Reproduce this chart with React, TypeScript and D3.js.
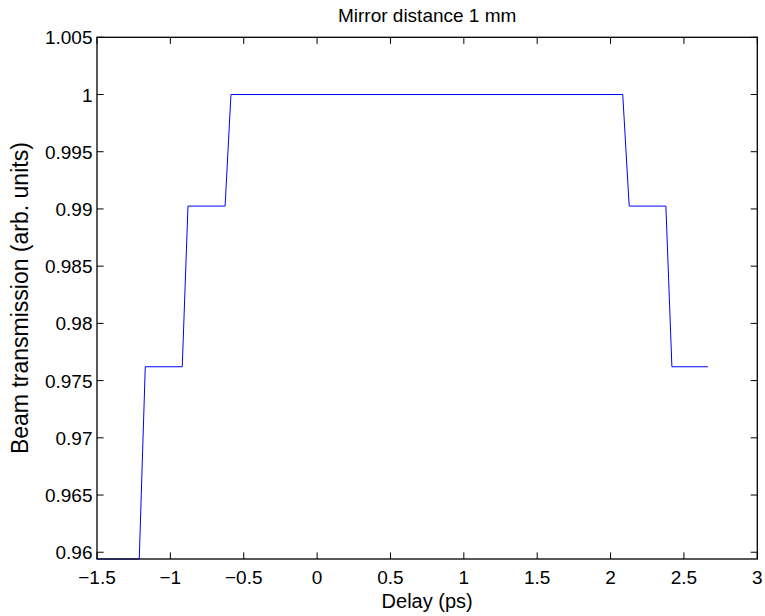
import React from "react";
import * as d3 from "d3";

const delayPs = [-1.5, -1.212, -1.171, -0.919, -0.880, -0.627, -0.587, 2.083, 2.127, 2.377, 2.418, 2.663];
const transmission = [0.95941, 0.95941, 0.97621, 0.97621, 0.99025, 0.99025, 1.0, 1.0, 0.99025, 0.99025, 0.97621, 0.97621];
const xTicks = [-1.5, -1, -0.5, 0, 0.5, 1, 1.5, 2, 2.5, 3];
const yTicks = [0.96, 0.965, 0.97, 0.975, 0.98, 0.985, 0.99, 0.995, 1, 1.005];
const xTickLabels = ["\u22121.5", "\u22121", "\u22120.5", "0", "0.5", "1", "1.5", "2", "2.5", "3"];
const yTickLabels = ["0.96", "0.965", "0.97", "0.975", "0.98", "0.985", "0.99", "0.995", "1", "1.005"];

const W = 765, H = 616;
const left = 97, right = 757.3, top = 37.3, bottom = 559;
const font = "'Liberation Sans', Arial, Helvetica, sans-serif";

export default function App() {
  const x = d3.scaleLinear().domain([-1.5, 3]).range([left, right]);
  const y = d3.scaleLinear().domain([0.95941, 1.005]).range([bottom, top]);
  const pts = delayPs.map((d, i) => [d, transmission[i]] as [number, number]);
  const line = d3.line<[number, number]>().x(d => x(d[0])).y(d => y(d[1]));
  const tl = 6.6;
  return (
    <svg width={W} height={H} style={{ position: "absolute", left: 0, top: 0, background: "#fff" }} fontFamily={font}>
      <rect x={0} y={0} width={W} height={H} fill="#fff" />
      <path d={line(pts) || ""} fill="none" stroke="#0000ff" strokeWidth={1} />
      <g stroke="#000" strokeWidth={1}>
        {xTicks.map((t, i) => (
          <g key={"xt" + i}>
            <line x1={x(t)} x2={x(t)} y1={bottom} y2={bottom - tl} />
            <line x1={x(t)} x2={x(t)} y1={top} y2={top + tl} />
          </g>
        ))}
        {yTicks.map((t, i) => (
          <g key={"yt" + i}>
            <line x1={left} x2={left + tl} y1={y(t)} y2={y(t)} />
            <line x1={right} x2={right - tl} y1={y(t)} y2={y(t)} />
          </g>
        ))}
      </g>
      <rect x={left} y={top} width={right - left} height={bottom - top} fill="none" stroke="#000" strokeWidth={1.3} />
      <g fontSize={19} fill="#000">
        {xTicks.map((t, i) => (
          <text key={"xl" + i} x={x(t)} y={bottom + 25} textAnchor="middle">{xTickLabels[i]}</text>
        ))}
        {yTicks.map((t, i) => (
          <text key={"yl" + i} x={left - 4.5} y={y(t) + 7} textAnchor="end">{yTickLabels[i]}</text>
        ))}
      </g>
      <text x={(left + right) / 2} y={22} textAnchor="middle" fontSize={19}>Mirror distance 1 mm</text>
      <text x={(left + right) / 2} y={608} textAnchor="middle" fontSize={20}>Delay (ps)</text>
      <text transform={`translate(28,${(top + bottom) / 2}) rotate(-90)`} textAnchor="middle" fontSize={23}>Beam transmission (arb. units)</text>
    </svg>
  );
}
